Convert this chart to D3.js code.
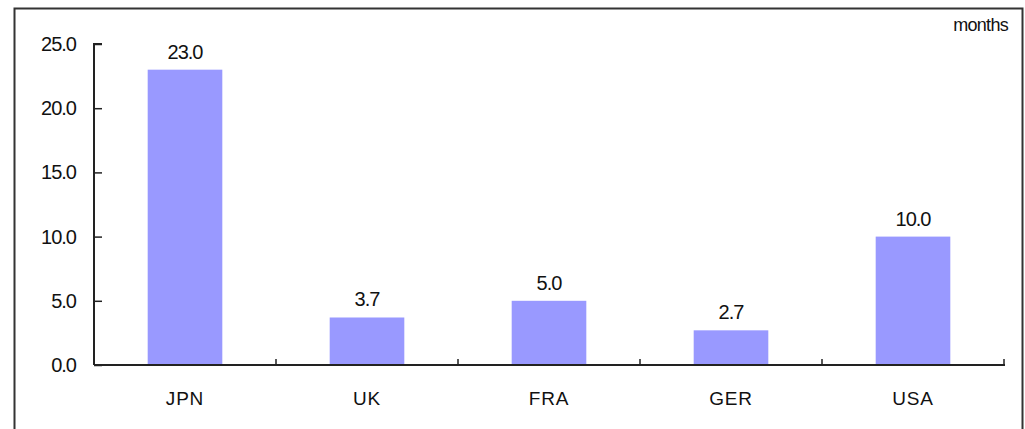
<!DOCTYPE html>
<html><head><meta charset="utf-8">
<script src="https://cdn.jsdelivr.net/npm/d3@7"></script>
<style>body{margin:0;background:#fff}svg{display:block}text{font-family:"Liberation Sans",Arial,sans-serif;fill:#111}</style>
</head><body><svg id="c" width="1025" height="429"></svg>
<script>
const categories = ["JPN","UK","FRA","GER","USA"];
const values = [23.0,3.7,5.0,2.7,10.0];
const yTicks = [0,5,10,15,20,25];
const unitLabel = "months";

const svg = d3.select("#c");
svg.append("rect").attr("x",14.5).attr("y",8.5).attr("width",1008).attr("height",440)
  .attr("fill","#fff").attr("stroke","#333").attr("stroke-width",2);

const x = d3.scaleBand().domain(categories).range([94,1004]).paddingInner(0.59).paddingOuter(0.295);
const y = d3.scaleLinear().domain([0,25]).range([365,44]);

svg.selectAll("rect.bar").data(values).join("rect").attr("class","bar")
  .attr("x",(d,i)=>x(categories[i])).attr("width",x.bandwidth())
  .attr("y",d=>y(d)).attr("height",d=>y(0)-y(d)).attr("fill","#9999ff");

function ctext(sel, fs, ls){
  return sel.attr("font-size",fs).attr("letter-spacing",ls);
}

// y axis
const ya = svg.append("g").attr("transform","translate(94,0)")
  .call(d3.axisRight(y).tickValues(yTicks).tickSize(8).tickFormat(""));
ya.select(".domain").attr("stroke","#222").attr("stroke-width",2).attr("d","M8,44H0V365");
ya.selectAll(".tick line").attr("stroke","#222").attr("stroke-width",1.5);
ctext(svg.selectAll("text.ylab").data(yTicks).join("text").attr("class","ylab")
  .attr("x",76).attr("y",d=>y(d)+7).attr("text-anchor","end"),20,-1).text(d=>d.toFixed(1));

// x axis
const step = x.step();
const bounds = d3.range(categories.length+1).map(i=>94+i*step);
svg.append("line").attr("x1",94).attr("x2",1005).attr("y1",y(0)).attr("y2",y(0))
  .attr("stroke","#222").attr("stroke-width",2);
svg.selectAll("line.xt").data(bounds.slice(1)).join("line").attr("class","xt")
  .attr("x1",d=>d).attr("x2",d=>d).attr("y1",y(0)).attr("y2",y(0)-6)
  .attr("stroke","#222").attr("stroke-width",1.5);
ctext(svg.selectAll("text.xlab").data(categories).join("text").attr("class","xlab")
  .attr("x",d=>x(d)+x.bandwidth()/2).attr("y",405).attr("text-anchor","middle"),19,0.8).text(d=>d);

// value labels
ctext(svg.selectAll("text.vlab").data(values).join("text").attr("class","vlab")
  .attr("x",(d,i)=>x(categories[i])+x.bandwidth()/2).attr("y",d=>y(d)-11)
  .attr("text-anchor","middle"),20,-1).text(d=>d.toFixed(1));

svg.append("text").attr("x",1008).attr("y",31).attr("text-anchor","end")
  .attr("font-size",18).attr("letter-spacing",-0.7).text(unitLabel);
</script></body></html>
